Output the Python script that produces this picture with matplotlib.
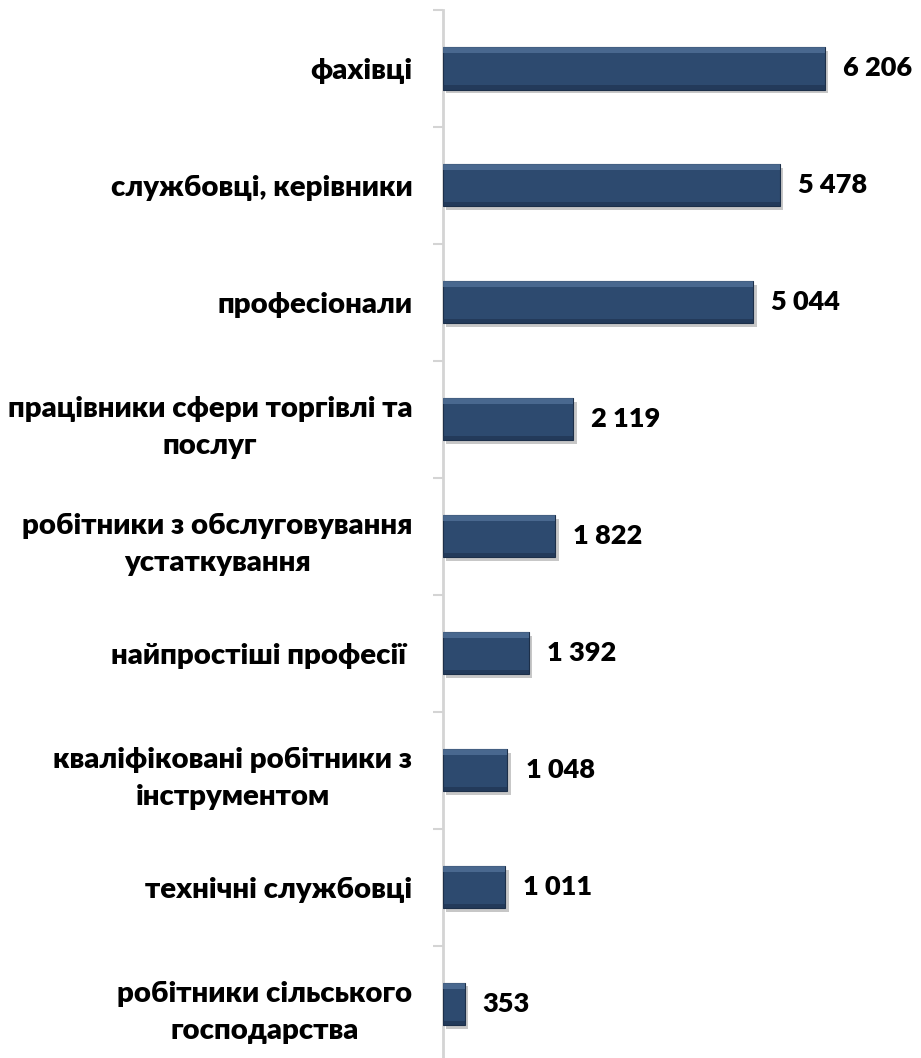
import matplotlib
matplotlib.use("Agg")
import matplotlib.pyplot as plt
import matplotlib.patheffects as pe

plt.rcParams["font.family"] = ["Lato", "DejaVu Sans"]
plt.rcParams["font.weight"] = "bold"

# дані
categories = [
    "фахівці",
    "службовці, керівники",
    "професіонали",
    "працівники сфери торгівлі та\nпослуг",
    "робітники з обслуговування\nустаткування",
    "найпростіші професії ",
    "кваліфіковані робітники з\nінструментом",
    "технічні службовці",
    "робітники сільського\nгосподарства",
]
values = [6206, 5478, 5044, 2119, 1822, 1392, 1048, 1011, 353]
value_labels = ["6 206", "5 478", "5 044", "2 119", "1 822", "1 392", "1 048", "1 011", "353"]

W, H = 921, 1058
fig = plt.figure(figsize=(W / 100, H / 100), dpi=100)
ax = fig.add_axes([443 / W, 1 - 1062.5 / H, 1 - 443 / W, 1052.5 / H])

pos = list(range(len(categories)))
h = 0.36

bars = ax.barh(pos, values, height=h, color="#2d4a6f", edgecolor="#1c2f49",
               linewidth=0.8, zorder=3)
for b in bars:
    b.set_path_effects([pe.SimplePatchShadow(offset=(2.5, -2.5), shadow_rgbFace="#000000", alpha=0.22),
                        pe.Normal()])

# імітація фаски: світла смуга зверху, темна знизу
ax.barh([p - h / 2 + h * 0.07 for p in pos], values, height=h * 0.14,
        color="#56769d", alpha=0.7, linewidth=0, zorder=4)
ax.barh([p + h / 2 - h * 0.05 for p in pos], values, height=h * 0.10,
        color="#1f3452", alpha=0.7, linewidth=0, zorder=4)

for v, lab, p in zip(values, value_labels, pos):
    ax.annotate(lab, xy=(v, p), xytext=(13, 0), textcoords="offset points",
                ha="left", va="center", fontsize=19.5, fontweight="heavy",
                color="black")

ax.set_xlim(0, 7772)
ax.set_ylim(len(categories) - 0.5, -0.5)

ax.set_yticks(pos)
ax.set_yticklabels(categories, fontsize=21.2, fontweight="heavy",
                   multialignment="center", linespacing=1.55)
ax.tick_params(axis="y", which="major", length=0, pad=22)
ax.set_yticks([p + 0.5 for p in [-1] + pos], minor=True)
ax.tick_params(axis="y", which="minor", length=7, width=1.5, color="#d4d4d4")

ax.set_xticks([])
for s in ["top", "right", "bottom"]:
    ax.spines[s].set_visible(False)
ax.spines["left"].set_color("#d4d4d4")
ax.spines["left"].set_linewidth(2)

fig.savefig("out.png", dpi=100)
